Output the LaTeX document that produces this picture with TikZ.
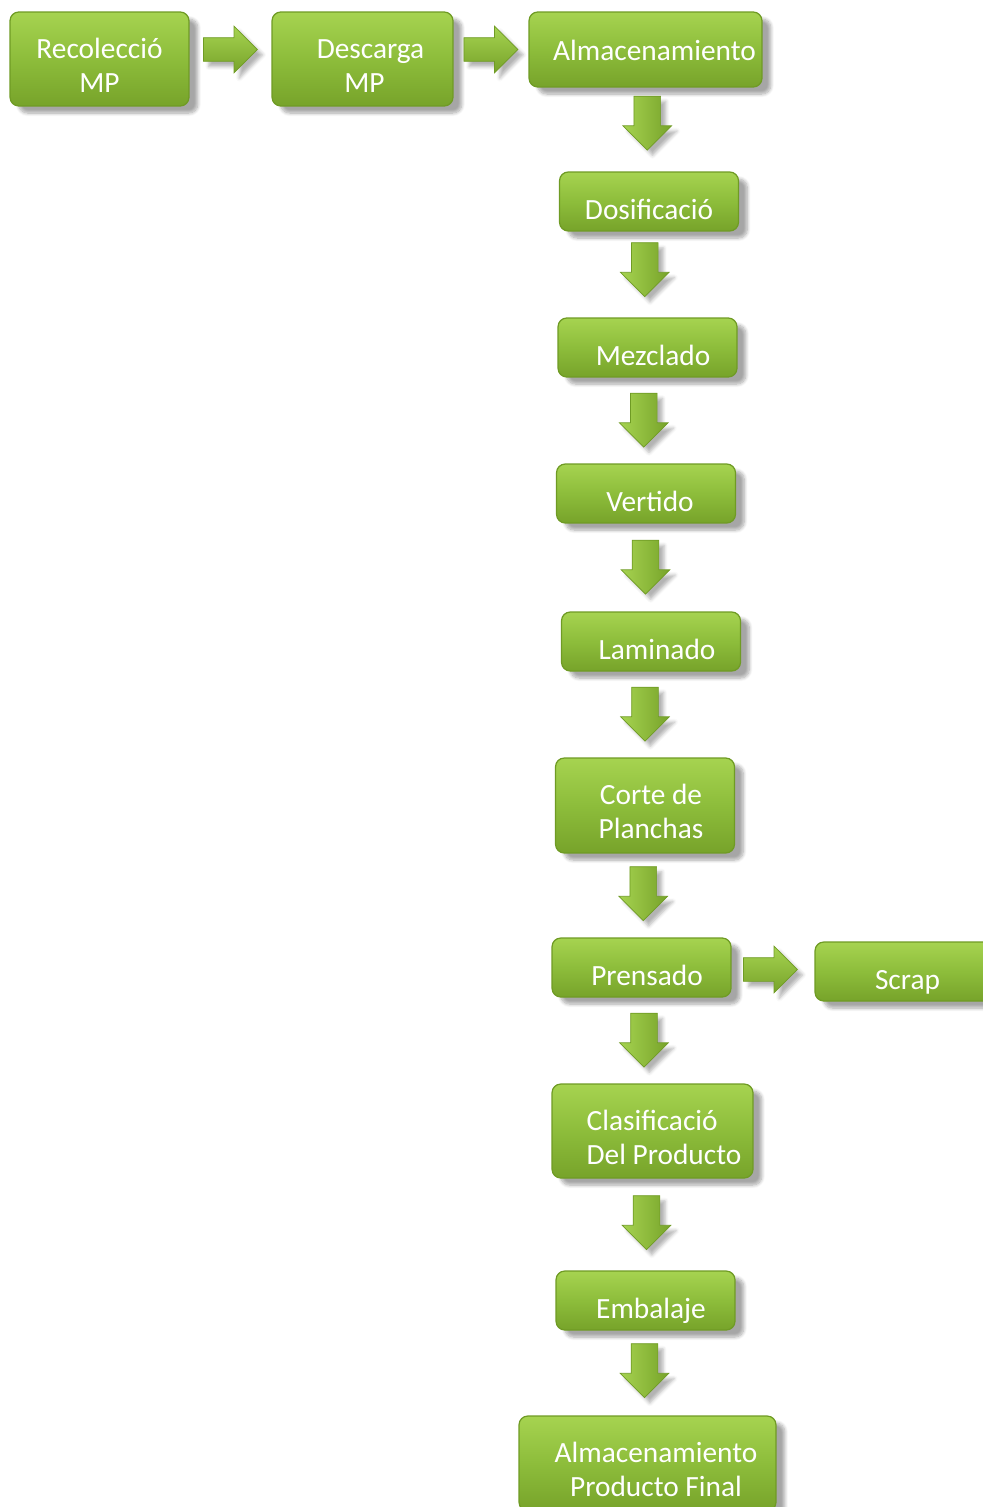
\documentclass[tikz,border=0pt]{standalone}
\usepackage{fontspec}
\setmainfont{Carlito}
\usetikzlibrary{calc,shapes.arrows,shadows.blur}

\definecolor{verdeclaro}{HTML}{A6D350}
\definecolor{verdemedio}{HTML}{8DBD3B}
\definecolor{verdeoscuro}{HTML}{77A32A}
\definecolor{verdeborde}{HTML}{6F9B24}

\newcommand{\der}[1]{\hspace*{#1}}

\begin{document}
\begin{tikzpicture}[x=0.02cm,y=-0.02cm]


\tikzset{paso/.style={rectangle,rounded corners=5pt,draw=verdeborde,line width=0.7pt,top color=verdeclaro,bottom color=verdeoscuro,middle color=verdemedio,text=white,font=\fontsize{16.7}{19.3}\selectfont,align=center,inner sep=0pt,text height=21pt,text depth=0pt,minimum width=3.58cm,minimum height=1.18cm,blur shadow={shadow xshift=5pt,shadow yshift=-4pt,shadow opacity=35,shadow blur steps=8}},}
\tikzset{doble/.style={text height=38pt,minimum height=1.88cm},}
\tikzset{flechaDer/.style={single arrow,draw=verdeborde,line width=0.4pt,top color=verdeclaro,bottom color=verdeoscuro,inner xsep=0pt,inner ysep=0.23cm,minimum height=1.08cm,minimum width=0.92cm,single arrow head extend=0.23cm,blur shadow={shadow xshift=3pt,shadow yshift=-3pt,shadow opacity=30}},}
\tikzset{flechaAbajo/.style={single arrow,shape border rotate=270,draw=verdeborde,line width=0.4pt,left color=verdeclaro,right color=verdeoscuro,inner xsep=0.26cm,inner ysep=0pt,minimum height=1.08cm,minimum width=0.96cm,single arrow head extend=0.22cm,blur shadow={shadow xshift=3pt,shadow yshift=-3pt,shadow opacity=30}},}

\clip (0,0) rectangle (983,1507);

	\draw
		(99.5,59) node[paso,doble] (rec) {Recolecció\\MP}
		(362.5,59) node[paso,doble,minimum width=3.62cm] (des) {\der{0.32cm}Descarga\\\der{0.08cm}MP}
		(645.5,49.5) node[paso,text height=13pt,minimum width=4.66cm,minimum height=1.5cm] (alm) {\der{0.36cm}Almacenamiento}
		(649,201.5) node[paso] (dos) {Dosificació}
		(647.5,347.5) node[paso] (mez) {\der{0.22cm}Mezclado}
		(646,493.5) node[paso] (ver) {\der{0.16cm}Vertido}
		(651,641.5) node[paso] (lam) {\der{0.24cm}Laminado}
		(645,805.5) node[paso,doble,minimum height=1.9cm] (cor) {\der{0.24cm}Corte de\\\der{0.24cm}Planchas}
		(641.5,967.5) node[paso] (pre) {\der{0.22cm}Prensado}
		(905,971.5) node[paso,minimum width=3.6cm] (scr) {\der{0.1cm}Scrap}
		(652.5,1131) node[paso,doble,align=left,minimum width=4.02cm] (cla) {\der{0.46cm}Clasificació\\\der{0.46cm}Del Producto}
		(645.5,1300.5) node[paso] (emb) {\der{0.22cm}Embalaje}
		(647.5,1463.5) node[paso,doble,minimum width=5.14cm,minimum height=1.9cm] (apf) {\der{0.34cm}Almacenamiento\\\der{0.34cm}Producto Final};

	\draw ($(rec.east)!0.5!(des.west)$) node[flechaDer,xshift=-0.12cm,yshift=0.19cm] (f1) {};
	\draw ($(des.east)!0.5!(alm.west)$) node[flechaDer,xshift=-0.12cm,yshift=0.095cm] (f2) {};
	\draw ($(pre.east)!0.5!(scr.west)$) node[flechaDer,xshift=-0.17cm] (f3) {};

	\draw ($(alm.south)!0.5!(dos.north)$) node[flechaAbajo,yshift=0.26cm] (f4) {};
	\draw ($(dos.south)!0.5!(mez.north)$) node[flechaAbajo,xshift=-0.07cm,yshift=0.23cm] (f5) {};
	\draw ($(mez.south)!0.5!(ver.north)$) node[flechaAbajo,xshift=-0.06cm,yshift=0.14cm] (f6) {};
	\draw ($(ver.south)!0.5!(lam.north)$) node[flechaAbajo,xshift=-0.06cm,yshift=0.14cm] (f7) {};
	\draw ($(lam.south)!0.5!(cor.north)$) node[flechaAbajo,xshift=-0.06cm,yshift=0.14cm] (f8) {};
	\draw ($(cor.south)!0.5!(pre.north)$) node[flechaAbajo,yshift=0.17cm] (f9) {};
	\draw ($(pre.south)!0.5!(cla.north)$) node[flechaAbajo,xshift=-0.06cm,yshift=0.14cm] (f10) {};
	\draw ($(cla.south)!0.5!(emb.north)$) node[flechaAbajo,xshift=-0.05cm,yshift=0.17cm] (f11) {};
	\draw ($(emb.south)!0.5!(apf.north)$) node[flechaAbajo,xshift=-0.04cm,yshift=0.18cm] (f12) {};

\end{tikzpicture}
\end{document}
